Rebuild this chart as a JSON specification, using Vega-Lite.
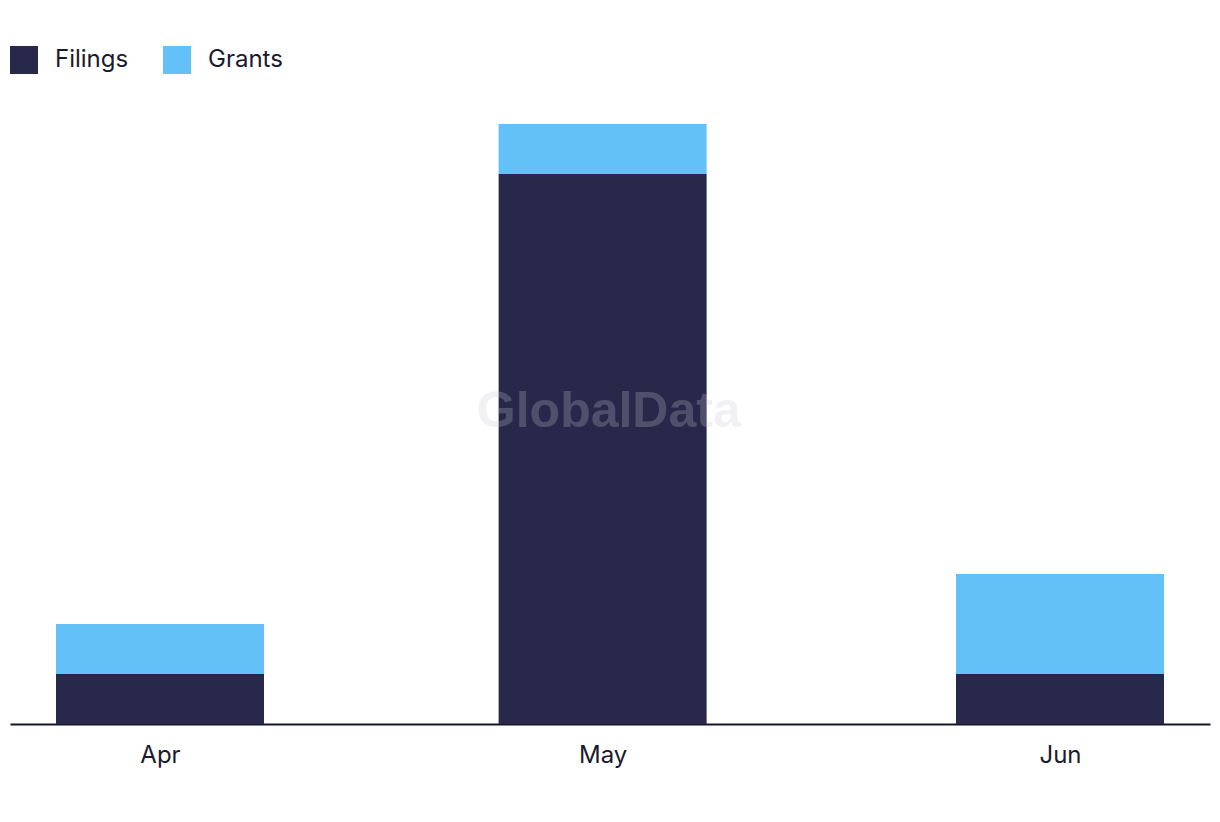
{
  "$schema": "https://vega.github.io/schema/vega-lite/v6.json",
  "autosize": "none",
  "width": 1200,
  "height": 600,
  "padding": {"left": 10, "top": 124, "right": 10, "bottom": 98},
  "background": "white",
  "config": {"view": {"stroke": null}, "font": "Inter"},
  "datasets": {
    "bars": [
      {"month": "2023-04-01", "type": "Filings", "count": 1},
      {"month": "2023-04-01", "type": "Grants", "count": 1},
      {"month": "2023-05-01", "type": "Filings", "count": 11},
      {"month": "2023-05-01", "type": "Grants", "count": 1},
      {"month": "2023-06-01", "type": "Filings", "count": 1},
      {"month": "2023-06-01", "type": "Grants", "count": 2}
    ],
    "mark": [{"month": "2023-05-01T10:00:00Z", "y": 6.24, "label": "GlobalData"}]
  },
  "layer": [
    {
      "data": {"name": "bars"},
      "mark": {"type": "bar", "size": 208},
      "encoding": {
        "x": {
          "field": "month", "type": "temporal",
          "scale": {"type": "utc", "domain": [1679428800000, 1686456000000], "nice": false, "padding": 0},
          "axis": {
            "title": null,
            "labelExpr": "utcFormat(datum.value, '%b')",
            "values": [1680307200000, 1682899200000, 1685577600000],
            "grid": false, "ticks": false, "domainColor": "#14142b", "domainWidth": 2,
            "labelFont": "Inter", "labelFontSize": 24, "labelColor": "#1a1a2e",
            "labelPadding": 19, "labelAngle": 0
          }
        },
        "y": {
          "field": "count", "type": "quantitative", "stack": "zero",
          "scale": {"domain": [0, 12], "nice": false},
          "axis": null
        },
        "color": {
          "field": "type", "type": "nominal",
          "scale": {"domain": ["Filings", "Grants"], "range": ["#28284b", "#63c1f8"]},
          "legend": {
            "title": null, "orient": "none", "direction": "horizontal",
            "legendX": 0, "legendY": -78,
            "symbolType": "square", "symbolSize": 784, "symbolStrokeWidth": 0, "symbolOpacity": 1,
            "labelFont": "Inter", "labelFontSize": 24, "labelColor": "#1a1a2e",
            "labelOffset": 17, "columnPadding": 34, "labelBaseline": "middle"
          }
        },
        "order": {"field": "type", "sort": "ascending"}
      }
    },
    {
      "data": {"name": "mark"},
      "mark": {"type": "text", "font": "Liberation Sans", "fontWeight": "bold", "fontSize": 50, "color": "#c8c8d0", "opacity": 0.25, "align": "center", "baseline": "middle"},
      "encoding": {
        "x": {"field": "month", "type": "temporal"},
        "y": {"field": "y", "type": "quantitative"},
        "text": {"field": "label"}
      }
    }
  ]
}
